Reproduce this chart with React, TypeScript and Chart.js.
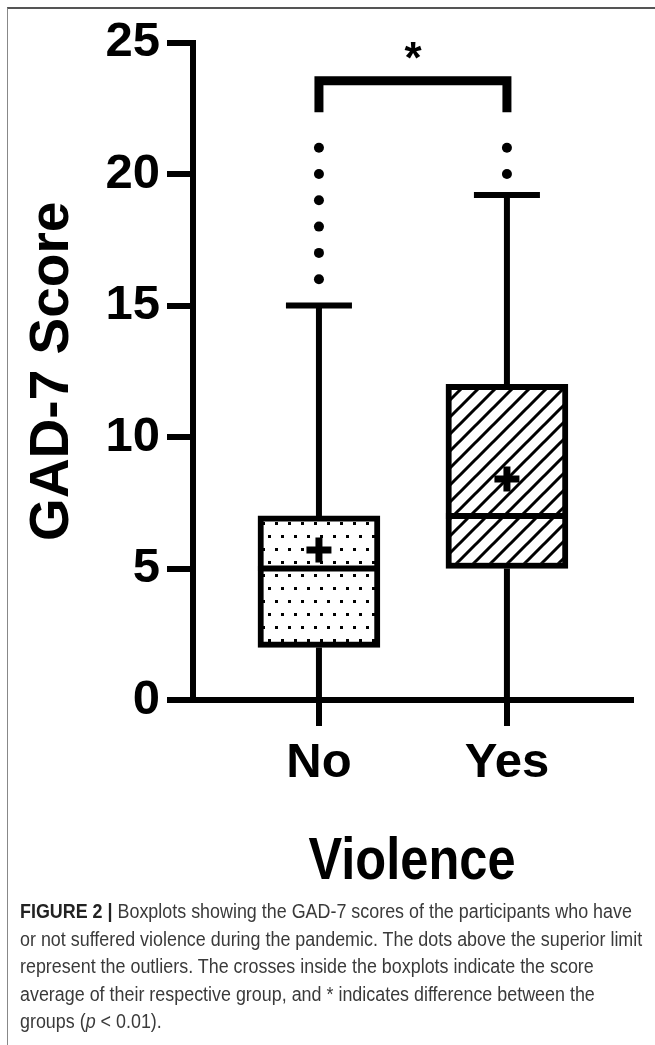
import React, { useEffect, useRef } from 'react';
import { Chart, registerables } from 'chart.js';

Chart.register(...registerables);

// ---- data ----
const categories = ['No', 'Yes'];
const whiskerLow = [0, 0];
const q1 = [2, 5];
const median = [5, 7];
const q3 = [7, 12];
const whiskerHigh = [15, 19.2];
const means = [5.7, 8.4];
const outliersNo = [16, 17, 18, 19, 20, 21];
const outliersYes = [20, 21];
const yTicks = [0, 5, 10, 15, 20, 25];
const yTitle = 'GAD-7 Score';
const xTitle = 'Violence';
const sigLabel = '*';
const sigBracketTop = 23.55;
const sigBracketLeg = 22.35;
const sigLabelY = 24.68;

const SANS = "'Liberation Sans', Arial, Helvetica, sans-serif";

function makeDotPattern(ctx: CanvasRenderingContext2D) {
  const c = document.createElement('canvas');
  c.width = 26;
  c.height = 26;
  const g = c.getContext('2d')!;
  g.fillStyle = '#fff';
  g.fillRect(0, 0, 26, 26);
  g.fillStyle = '#000';
  [[2, 2], [15, 2], [8, 15], [21, 15]].forEach(([x, y]) => g.fillRect(x, y, 3, 3));
  return ctx.createPattern(c, 'repeat')!;
}

function makeHatchPattern(ctx: CanvasRenderingContext2D) {
  const s = 17;
  const c = document.createElement('canvas');
  c.width = s;
  c.height = s;
  const g = c.getContext('2d')!;
  g.fillStyle = '#fff';
  g.fillRect(0, 0, s, s);
  g.strokeStyle = '#000';
  g.lineWidth = 3;
  g.beginPath();
  g.moveTo(-2, s + 2);
  g.lineTo(s + 2, -2);
  g.moveTo(-2, 2);
  g.lineTo(2, -2);
  g.moveTo(s - 2, s + 2);
  g.lineTo(s + 2, s - 2);
  g.stroke();
  return ctx.createPattern(c, 'repeat')!;
}

const boxExtras = {
  id: 'boxExtras',
  afterDatasetDraw(chart: any, args: any) {
    if (args.index !== 0) return;
    const { ctx, scales } = chart;
    const x = scales.x;
    const y = scales.y;
    const meta = chart.getDatasetMeta(0);
    ctx.save();
    ctx.strokeStyle = '#000';
    ctx.lineWidth = 6;
    ctx.lineCap = 'butt';
    categories.forEach((_, i) => {
      const px = x.getPixelForValue(i + 1);
      const bar = meta.data[i];
      const half = bar.width / 2;
      const yHigh = y.getPixelForValue(whiskerHigh[i]);
      const yMed = y.getPixelForValue(median[i]);
      ctx.beginPath();
      ctx.moveTo(px, y.getPixelForValue(q3[i]));
      ctx.lineTo(px, yHigh);
      ctx.moveTo(px, y.getPixelForValue(q1[i]));
      ctx.lineTo(px, y.getPixelForValue(whiskerLow[i]));
      ctx.moveTo(px - 33, yHigh);
      ctx.lineTo(px + 33, yHigh);
      ctx.moveTo(bar.x - half, yMed);
      ctx.lineTo(bar.x + half, yMed);
      ctx.stroke();
    });
    ctx.restore();
  },
  afterDatasetsDraw(chart: any) {
    const { ctx, scales } = chart;
    const x = scales.x;
    const y = scales.y;
    const x1 = x.getPixelForValue(1);
    const x2 = x.getPixelForValue(2);
    const yt = y.getPixelForValue(sigBracketTop);
    const yl = y.getPixelForValue(sigBracketLeg);
    ctx.save();
    ctx.strokeStyle = '#000';
    ctx.lineWidth = 9;
    ctx.lineJoin = 'miter';
    ctx.lineCap = 'butt';
    ctx.beginPath();
    ctx.moveTo(x1, yl);
    ctx.lineTo(x1, yt);
    ctx.lineTo(x2, yt);
    ctx.lineTo(x2, yl);
    ctx.stroke();
    ctx.fillStyle = '#000';
    ctx.font = `bold 44px ${SANS}`;
    ctx.textAlign = 'center';
    ctx.textBaseline = 'alphabetic';
    const m = ctx.measureText(sigLabel);
    const cy = y.getPixelForValue(sigLabelY);
    const base = cy + (m.actualBoundingBoxAscent - m.actualBoundingBoxDescent) / 2;
    ctx.fillText(sigLabel, (x1 + x2) / 2, base);

    // condensed x-axis title
    ctx.font = `bold 60px ${SANS}`;
    ctx.translate((x.left + x.right) / 2, x.bottom - 21);
    ctx.scale(0.843, 1);
    ctx.fillText(xTitle, 0, 0);
    ctx.restore();
  },
};

export default function App() {
  const ref = useRef<HTMLCanvasElement>(null);

  useEffect(() => {
    const canvas = ref.current!;
    const ctx = canvas.getContext('2d')!;
    const dots = makeDotPattern(ctx);
    const hatch = makeHatchPattern(ctx);
    const tickFont = { family: SANS, size: 49, weight: 'bold' as const };
    const chart = new Chart(canvas, {
      type: 'bar',
      data: {
        datasets: [
          {
            type: 'bar',
            order: 2,
            data: categories.map((_, i) => ({ x: i + 1, y: [q1[i], q3[i]] })) as any,
            backgroundColor: [dots, hatch] as any,
            borderColor: '#000',
            borderWidth: 6,
            borderSkipped: false,
            barThickness: 122,
          } as any,
          {
            type: 'scatter',
            order: 1,
            data: [
              ...outliersNo.map((v) => ({ x: 1, y: v })),
              ...outliersYes.map((v) => ({ x: 2, y: v })),
            ],
            pointRadius: 5,
            pointBackgroundColor: '#000',
            pointBorderWidth: 0,
            showLine: false,
          } as any,
          {
            type: 'scatter',
            order: 0,
            data: means.map((m, i) => ({ x: i + 1, y: m })),
            pointStyle: 'cross',
            pointRadius: 12.5,
            pointBorderWidth: 7,
            pointBorderColor: '#000',
            showLine: false,
          } as any,
        ],
      },
      options: {
        responsive: false,
        animation: false,
        layout: { padding: { left: 20, right: 24, top: 42.5, bottom: 0 } },
        plugins: { legend: { display: false }, tooltip: { enabled: false } },
        scales: {
          x: {
            type: 'linear',
            min: 0.33,
            max: 2.66,
            offset: false,
            afterBuildTicks: (s: any) => {
              s.ticks = categories.map((_, i) => ({ value: i + 1 }));
            },
            afterFit: (s: any) => {
              s.height = 200;
            },
            ticks: {
              autoSkip: false,
              maxRotation: 0,
              padding: 8,
              color: '#000',
              font: tickFont,
              callback: (v: any) => categories[Math.round(Number(v)) - 1] ?? '',
            },
            grid: {
              offset: false,
              drawOnChartArea: false,
              color: '#000',
              tickColor: '#000',
              tickLength: 26,
              tickWidth: 6,
              lineWidth: 6,
            },
            border: { display: true, color: '#000', width: 6 },
            title: { display: false, text: xTitle },
          } as any,
          y: {
            type: 'linear',
            min: 0,
            max: 25,
            afterBuildTicks: (s: any) => {
              s.ticks = yTicks.map((v) => ({ value: v }));
            },
            afterFit: (s: any) => {
              s.width = 173;
            },
            ticks: { padding: 7, color: '#000', font: tickFont },
            grid: {
              drawOnChartArea: false,
              color: '#000',
              tickColor: '#000',
              tickLength: 26,
              tickWidth: 6,
              lineWidth: 6,
            },
            border: { display: true, color: '#000', width: 6 },
            title: {
              display: true,
              text: yTitle,
              color: '#000',
              font: { family: SANS, size: 55, weight: 'bold' },
              padding: { top: 0, bottom: 0 },
            },
          } as any,
        },
      },
      plugins: [boxExtras],
    } as any);
    return () => chart.destroy();
  }, []);

  const capStyle: React.CSSProperties = {
    position: 'absolute',
    left: 20,
    top: 898,
    fontFamily: SANS,
    fontSize: 20,
    lineHeight: '27.5px',
    color: '#3a3a3a',
    whiteSpace: 'nowrap',
    transform: 'scaleX(0.895)',
    transformOrigin: '0 0',
  };

  return (
    <div style={{ position: 'absolute', left: 0, top: 0, width: 655, height: 1045, background: '#fff', overflow: 'hidden' }}>
      <div
        style={{
          position: 'absolute',
          left: 7,
          top: 7,
          width: 660,
          height: 1050,
          borderTop: '2px solid #555',
          borderLeft: '1px solid #888',
          boxSizing: 'border-box',
        }}
      />
      <canvas ref={ref} width={655} height={900} style={{ position: 'absolute', left: 0, top: 0, width: 655, height: 900 }} />
      <div style={capStyle}>
        <div>
          <b style={{ color: '#222' }}>FIGURE 2 |</b> Boxplots showing the GAD-7 scores of the participants who have
        </div>
        <div>or not suffered violence during the pandemic. The dots above the superior limit</div>
        <div>represent the outliers. The crosses inside the boxplots indicate the score</div>
        <div>average of their respective group, and * indicates difference between the</div>
        <div>
          groups (<i>p</i> &lt; 0.01).
        </div>
      </div>
    </div>
  );
}
